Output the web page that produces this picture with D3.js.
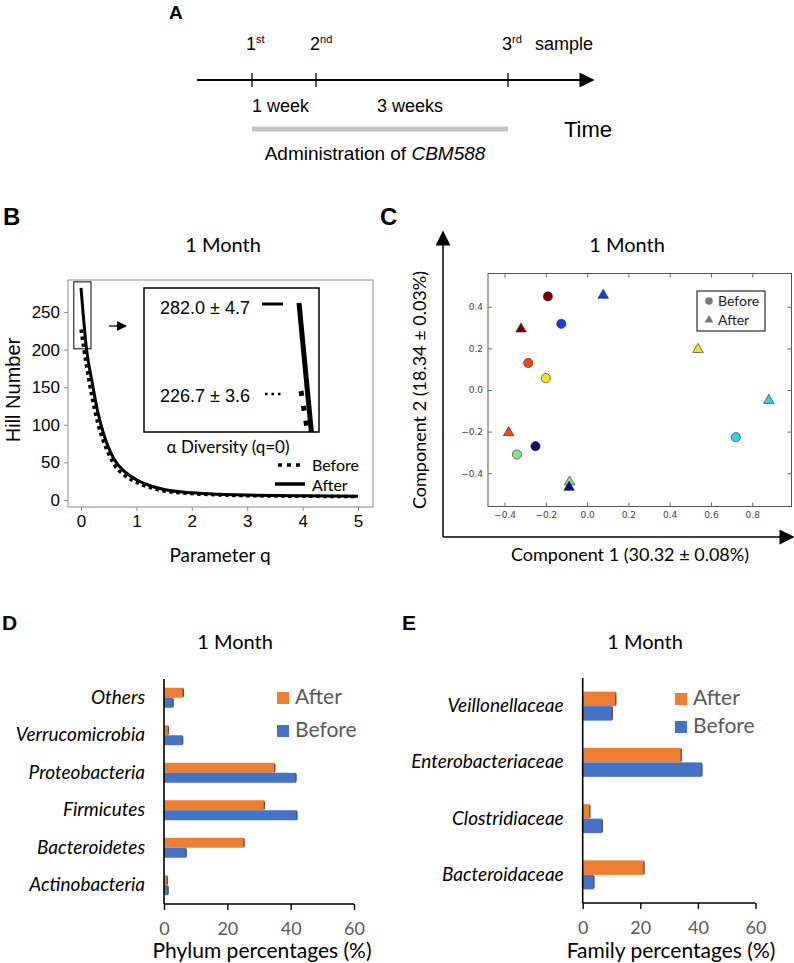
<!DOCTYPE html>
<html>
<head>
<meta charset="utf-8">
<script src="https://cdn.jsdelivr.net/npm/d3@7"></script>
<style>
  body { margin: 0; background: #fff; }
  svg { display: block; }
  .arial { font-family: "Liberation Sans", Arial, sans-serif; }
  .cal { font-family: Lato, "Noto Sans", sans-serif; }
</style>
</head>
<body>
<div class="fig"></div>
<script>
// ---------- data ----------
// panel A: sampling time line
const sampleLabels = ["1", "2", "3"];
const sampleSups = ["st", "nd", "rd"];
const sampleWeeks = [0, 1, 4];
const intervalLabels = ["1 week", "3 weeks"];

// panel B: Hill numbers vs parameter q
const qValues = [0, 0.1, 0.2, 0.3, 0.4, 0.5, 0.6, 0.8, 1.0, 1.25, 1.5, 2.0, 2.5, 3.0, 4.0, 5.0];
const hillAfter = [282, 200, 157, 118, 90, 69, 54, 37, 27, 19, 14, 9.5, 7.5, 6.5, 5.5, 5];
const hillBefore = [226.7, 178, 136, 103, 79, 61, 47, 32, 23.5, 16.5, 12, 8.5, 6.8, 5.8, 5, 4.5];
const hillTicksY = [0, 50, 100, 150, 200, 250];
const hillTicksX = [0, 1, 2, 3, 4, 5];

// panel C: PCoA, one colour per subject
const subjectColors = ["#800000", "#ee4a16", "#f5e11f", "#85e585", "#2fd3f0", "#1a3be8", "#0b0b7a"];
const beforePC1 = [-0.19, -0.285, -0.20, -0.34, 0.72, -0.125, -0.25];
const beforePC2 = [0.45, 0.13, 0.057, -0.31, -0.227, 0.318, -0.27];
const afterPC1 = [-0.32, -0.38, 0.537, -0.085, 0.88, 0.078, -0.087];
const afterPC2 = [0.298, -0.2, 0.2, -0.437, -0.045, 0.46, -0.463];
const pcTicksX = [-0.4, -0.2, 0.0, 0.2, 0.4, 0.6, 0.8];
const pcTicksY = [-0.4, -0.2, 0.0, 0.2, 0.4];

// panel D: phylum percentages
const phyla = ["Others", "Verrucomicrobia", "Proteobacteria", "Firmicutes", "Bacteroidetes", "Actinobacteria"];
const phylumAfter = [6.1, 1.4, 35.0, 31.7, 25.3, 1.05];
const phylumBefore = [2.9, 5.9, 41.7, 42.0, 7.0, 1.3];

// panel E: family percentages
const families = ["Veillonellaceae", "Enterobacteriaceae", "Clostridiaceae", "Bacteroidaceae"];
const familyAfter = [11.5, 34.2, 2.5, 21.3];
const familyBefore = [10.3, 41.4, 6.8, 3.9];

const pctTicks = [0, 20, 40, 60];
const seriesNames = ["After", "Before"];
const seriesColors = ["#ED7D31", "#4472C4"];

// ---------- svg ----------
const svg = d3.select('.fig').append('svg').attr('width', 794).attr('height', 963);

const panelLabel = (x, y, t, size) => svg.append('text').attr('class', 'arial')
  .attr('x', x).attr('y', y).attr('font-weight', 'bold').attr('font-size', size).text(t);

const defs = svg.append('defs');
defs.append('marker').attr('id', 'arr').attr('viewBox', '0 0 10 10').attr('refX', 9).attr('refY', 5)
  .attr('markerWidth', 10).attr('markerHeight', 10).attr('markerUnits', 'userSpaceOnUse').attr('orient', 'auto')
  .append('path').attr('d', 'M0,0 L10,5 L0,10 z').attr('fill', '#000');
defs.append('marker').attr('id', 'arrBig').attr('viewBox', '0 0 10 10').attr('refX', 9).attr('refY', 5)
  .attr('markerWidth', 17).attr('markerHeight', 15).attr('markerUnits', 'userSpaceOnUse').attr('orient', 'auto')
  .append('path').attr('d', 'M0,0 L10,5 L0,10 z').attr('fill', '#000');

// ---------- panel A ----------
panelLabel(169, 19, 'A', 19);
const xA = d3.scaleLinear().domain([0, 4]).range([252, 508]);
const gA = svg.append('g').attr('class', 'arial');
gA.append('line').attr('x1', 197).attr('x2', 593).attr('y1', 80).attr('y2', 80)
  .attr('stroke', '#000').attr('stroke-width', 2).attr('marker-end', 'url(#arrBig)');
gA.selectAll('.tk').data(sampleWeeks).join('line')
  .attr('x1', d => xA(d)).attr('x2', d => xA(d)).attr('y1', 73).attr('y2', 87)
  .attr('stroke', '#000').attr('stroke-width', 1.3);
const sl = gA.selectAll('.sl').data(sampleWeeks).join('text')
  .attr('x', d => xA(d) - 6).attr('y', 50).attr('font-size', 18);
sl.append('tspan').text((d, i) => sampleLabels[i]);
sl.append('tspan').attr('font-size', 11).attr('dy', -7).text((d, i) => sampleSups[i]);
gA.append('text').attr('x', 535).attr('y', 50).attr('font-size', 18).text('sample');
gA.selectAll('.il').data(intervalLabels).join('text')
  .attr('x', (d, i) => i === 0 ? xA(0) : (xA(1) + xA(4)) / 2 - 2)
  .attr('text-anchor', (d, i) => i === 0 ? 'start' : 'middle')
  .attr('y', 112).attr('font-size', 18).text(d => d);
gA.append('line').attr('x1', xA(0)).attr('x2', xA(4)).attr('y1', 129).attr('y2', 129)
  .attr('stroke', '#c3c3c3').attr('stroke-width', 5);
gA.append('text').attr('x', 564).attr('y', 137).attr('font-size', 22).text('Time');
const adm = gA.append('text').attr('x', 375).attr('y', 160).attr('text-anchor', 'middle').attr('font-size', 19);
adm.append('tspan').text('Administration of ');
adm.append('tspan').attr('font-style', 'italic').text('CBM588');

// ---------- panel B ----------
panelLabel(3, 225, 'B', 24);
const xB = d3.scaleLinear().domain([-0.235, 5.27]).range([68, 373]);
const yB = d3.scaleLinear().domain([-9.3, 292.5]).range([507, 280]);
const gB = svg.append('g');
gB.append('text').attr('class', 'cal').attr('x', 223).attr('y', 252).attr('text-anchor', 'middle')
  .attr('font-size', 20).text('1 Month');
gB.append('rect').attr('x', 68).attr('y', 280).attr('width', 305).attr('height', 227)
  .attr('fill', 'none').attr('stroke', '#8a8a8a');
const axYB = gB.append('g').attr('class', 'arial').attr('transform', 'translate(68,0)')
  .call(d3.axisLeft(yB).tickValues(hillTicksY).tickSize(4).tickPadding(4));
const axXB = gB.append('g').attr('class', 'arial').attr('transform', 'translate(0,507)')
  .call(d3.axisBottom(xB).tickValues(hillTicksX).tickFormat(d3.format('d')).tickSize(4).tickPadding(4));
[axYB, axXB].forEach(a => {
  a.select('.domain').remove();
  a.selectAll('line').attr('stroke', '#8a8a8a');
  a.selectAll('text').attr('font-size', 17).attr('fill', '#000').attr('font-family', '"Liberation Sans", Arial, sans-serif');
});
gB.append('text').attr('class', 'arial').attr('transform', 'translate(20,390) rotate(-90)')
  .attr('text-anchor', 'middle').attr('font-size', 20).text('Hill Number');
gB.append('text').attr('class', 'cal').attr('x', 220).attr('y', 562).attr('text-anchor', 'middle')
  .attr('font-size', 19).text('Parameter q');

const lineB = (xs, ys) => d3.line().x((d, i) => xs(qValues[i])).y(d => ys(d)).curve(d3.curveMonotoneX);
gB.append('path').datum(hillBefore).attr('d', lineB(xB, yB)).attr('fill', 'none')
  .attr('stroke', '#000').attr('stroke-width', 3.5).attr('stroke-dasharray', '3.5 3.5');
gB.append('path').datum(hillAfter).attr('d', lineB(xB, yB)).attr('fill', 'none')
  .attr('stroke', '#000').attr('stroke-width', 3);

// zoom box around q = 0
gB.append('rect').attr('x', xB(-0.13)).attr('y', yB(290)).attr('width', xB(0.18) - xB(-0.13))
  .attr('height', yB(201) - yB(290)).attr('fill', 'none').attr('stroke', '#000').attr('stroke-width', 1);
gB.append('line').attr('x1', 109).attr('x2', 126).attr('y1', 326).attr('y2', 326)
  .attr('stroke', '#000').attr('stroke-width', 1.3).attr('marker-end', 'url(#arr)');

// inset
const ins = { x: 144, y: 288, w: 175, h: 144 };
gB.append('rect').attr('x', ins.x).attr('y', ins.y).attr('width', ins.w).attr('height', ins.h)
  .attr('fill', '#fff').attr('stroke', '#000').attr('stroke-width', 1.5);
defs.append('clipPath').attr('id', 'insClip').append('rect')
  .attr('x', ins.x).attr('y', ins.y).attr('width', ins.w).attr('height', ins.h);
const xI = d3.scaleLinear().domain([0, 0.1]).range([299, 311.5]);
const yI = d3.scaleLinear().domain([282, 226.7]).range([303, 391]);
const gI = gB.append('g').attr('clip-path', 'url(#insClip)');
gI.append('path').datum(hillAfter.slice(0, 2)).attr('d', lineB(xI, yI)).attr('fill', 'none')
  .attr('stroke', '#000').attr('stroke-width', 5);
gI.append('path').datum(hillBefore.slice(0, 2)).attr('d', lineB(xI, yI)).attr('fill', 'none')
  .attr('stroke', '#000').attr('stroke-width', 5).attr('stroke-dasharray', '5 10')
  .attr('transform', 'translate(2,0)');
const insTxt = [[`${hillAfter[0].toFixed(1)} ± 4.7`, 314, 304, 'solid'], [`${hillBefore[0].toFixed(1)} ± 3.6`, 402, 394, 'dot']];
insTxt.forEach(([t, y, ly, s]) => {
  gB.append('text').attr('class', 'arial').attr('x', 160).attr('y', y).attr('font-size', 18).text(t);
  gB.append('line').attr('x1', s === 'solid' ? 262 : 265).attr('x2', 283).attr('y1', ly).attr('y2', ly)
    .attr('stroke', '#000').attr('stroke-width', s === 'solid' ? 3 : 2.5)
    .attr('stroke-dasharray', s === 'solid' ? null : '2.5 4');
});
gB.append('text').attr('class', 'cal').attr('x', 228).attr('y', 453).attr('text-anchor', 'middle')
  .attr('font-size', 17).text('α Diversity (q=0)');
// legend
gB.append('line').attr('x1', 278).attr('x2', 303).attr('y1', 465).attr('y2', 465)
  .attr('stroke', '#000').attr('stroke-width', 3.5).attr('stroke-dasharray', '4 5');
gB.append('line').attr('x1', 275).attr('x2', 305).attr('y1', 484).attr('y2', 484)
  .attr('stroke', '#000').attr('stroke-width', 3.5);
gB.append('text').attr('class', 'cal').attr('x', 312).attr('y', 471).attr('font-size', 16).text('Before');
gB.append('text').attr('class', 'cal').attr('x', 312).attr('y', 491).attr('font-size', 16).text('After');

// ---------- panel C ----------
panelLabel(380, 225, 'C', 24);
const xC = d3.scaleLinear().domain([-0.48, 0.99]).range([488, 791.5]);
const yC = d3.scaleLinear().domain([-0.56, 0.56]).range([506.5, 273.5]);
const gC = svg.append('g');
gC.append('line').attr('x1', 443).attr('x2', 443).attr('y1', 537).attr('y2', 232)
  .attr('stroke', '#000').attr('stroke-width', 1.5).attr('marker-end', 'url(#arrBig)');
gC.append('line').attr('x1', 443).attr('x2', 793).attr('y1', 537).attr('y2', 537)
  .attr('stroke', '#000').attr('stroke-width', 1.5).attr('marker-end', 'url(#arrBig)');
gC.append('text').attr('class', 'cal').attr('x', 627).attr('y', 252).attr('text-anchor', 'middle')
  .attr('font-size', 20).text('1 Month');
gC.append('rect').attr('x', 488).attr('y', 273.5).attr('width', 303.5).attr('height', 233)
  .attr('fill', 'none').attr('stroke', '#555');
const axC = [
  gC.append('g').attr('transform', 'translate(0,506.5)').call(d3.axisBottom(xC).tickValues(pcTicksX).tickFormat(d3.format('.1f')).tickSize(-4).tickPadding(5)),
  gC.append('g').attr('transform', 'translate(0,273.5)').call(d3.axisTop(xC).tickValues(pcTicksX).tickFormat('').tickSize(-4)),
  gC.append('g').attr('transform', 'translate(488,0)').call(d3.axisLeft(yC).tickValues(pcTicksY).tickFormat(d3.format('.1f')).tickSize(-4).tickPadding(5)),
  gC.append('g').attr('transform', 'translate(791.5,0)').call(d3.axisRight(yC).tickValues(pcTicksY).tickFormat('').tickSize(-4))
];
axC.forEach(a => {
  a.select('.domain').remove();
  a.selectAll('line').attr('stroke', '#666');
  a.selectAll('text').attr('font-size', 9).attr('fill', '#444').attr('font-family', '"DejaVu Sans", sans-serif')
    .text(function () { return this.textContent.replace('-', '−'); });
});
const sym = d3.symbol().type(d3.symbolTriangle).size(48);
gC.selectAll('.pb').data(subjectColors).join('circle')
  .attr('cx', (d, i) => xC(beforePC1[i])).attr('cy', (d, i) => yC(beforePC2[i])).attr('r', 4.6)
  .attr('fill', d => d).attr('stroke', '#222').attr('stroke-width', 0.6);
gC.selectAll('.pa').data(subjectColors).join('path').attr('d', sym)
  .attr('transform', (d, i) => `translate(${xC(afterPC1[i])},${yC(afterPC2[i]) + 1})`)
  .attr('fill', d => d).attr('stroke', '#222').attr('stroke-width', 0.6);
gC.append('rect').attr('x', 697).attr('y', 291).attr('width', 68).attr('height', 40)
  .attr('fill', '#fff').attr('stroke', '#000').attr('stroke-width', 1);
gC.append('circle').attr('cx', 709).attr('cy', 301).attr('r', 3.8).attr('fill', '#777');
gC.append('path').attr('d', d3.symbol().type(d3.symbolTriangle).size(32))
  .attr('transform', 'translate(709,320)').attr('fill', '#777');
gC.append('text').attr('class', 'cal').attr('x', 718).attr('y', 306).attr('font-size', 14).attr('fill', '#222').text('Before');
gC.append('text').attr('class', 'cal').attr('x', 718).attr('y', 325).attr('font-size', 14).attr('fill', '#222').text('After');
gC.append('text').attr('class', 'cal').attr('transform', 'translate(426,390) rotate(-90)')
  .attr('text-anchor', 'middle').attr('font-size', 18).text('Component 2 (18.34 ± 0.03%)');
gC.append('text').attr('class', 'cal').attr('x', 630).attr('y', 561)
  .attr('text-anchor', 'middle').attr('font-size', 18).text('Component 1 (30.32 ± 0.08%)');

// ---------- panels D and E ----------
const barPanel = (o) => {
  panelLabel(o.lx, 630, o.letter, 21);
  const x = d3.scaleLinear().domain([0, 60]).range([o.x0, o.x1]);
  const y = d3.scaleBand().domain(o.cats).range([o.y0, o.y1]);
  const ys = d3.scaleBand().domain(seriesNames).range([0, y.bandwidth()]).paddingOuter(o.pad);
  const g = svg.append('g').attr('class', 'cal');
  g.append('text').attr('x', o.tx).attr('y', 649).attr('text-anchor', 'middle').attr('font-size', 20).text('1 Month');
  const rows = o.cats.map((c, i) => seriesNames.map((s, j) => ({ c, s, j, v: [o.after, o.before][j][i] }))).flat();
  g.selectAll('.bar').data(rows).join('rect')
    .attr('x', x(0)).attr('y', d => y(d.c) + ys(d.s)).attr('width', d => x(d.v) - x(0))
    .attr('height', ys.bandwidth()).attr('fill', d => seriesColors[d.j]);
  g.selectAll('.err').data(rows).join('line')
    .attr('x1', d => x(d.v)).attr('x2', d => x(d.v))
    .attr('y1', d => y(d.c) + ys(d.s) + 1).attr('y2', d => y(d.c) + ys(d.s) + ys.bandwidth() - 1)
    .attr('stroke', '#505050').attr('stroke-width', 1.3);
  const ax = g.append('g').attr('transform', `translate(0,${o.y1})`)
    .call(d3.axisBottom(x).tickValues(pctTicks).tickSize(6).tickPadding(12).tickSizeOuter(0));
  ax.select('.domain').attr('stroke', '#000').attr('stroke-width', 1.6).attr('d', `M${o.x0},0H${o.x1}`);
  ax.selectAll('line').attr('stroke', '#000').attr('stroke-width', 1.4);
  ax.selectAll('text').attr('font-size', 18).attr('fill', '#595959').attr('font-family', 'Lato, sans-serif');
  g.append('line').attr('x1', o.x0).attr('x2', o.x0).attr('y1', o.y0).attr('y2', o.y1)
    .attr('stroke', '#000').attr('stroke-width', 1.6);
  g.selectAll('.cl').data(o.cats).join('text')
    .attr('x', o.x0 - 19).attr('y', d => y(d) + y.bandwidth() / 2 + 6).attr('text-anchor', 'end')
    .attr('font-style', 'italic').attr('font-size', 19).text(d => d);
  g.append('text').attr('x', o.xlx).attr('y', 958).attr('text-anchor', 'middle').attr('font-size', 21).text(o.xlabel);
  seriesNames.forEach((s, j) => {
    g.append('rect').attr('x', o.legX).attr('y', o.legY + j * o.legDy).attr('width', 12).attr('height', 12).attr('fill', seriesColors[j]);
    g.append('text').attr('x', o.legX + 18).attr('y', o.legY + j * o.legDy + 12).attr('font-size', 21).attr('fill', '#595959').text(s);
  });
};
barPanel({ letter: 'D', lx: 2, cats: phyla, after: phylumAfter, before: phylumBefore, x0: 164, x1: 354,
  y0: 679, y1: 904, pad: 0.875, tx: 235, xlabel: 'Phylum percentages (%)', xlx: 262, legX: 277, legY: 692, legDy: 33 });
barPanel({ letter: 'E', lx: 402, cats: families, after: familyAfter, before: familyBefore, x0: 582.7, x1: 755.5,
  y0: 678, y1: 903, pad: 0.94, tx: 645, xlabel: 'Family percentages (%)', xlx: 671, legX: 675, legY: 693, legDy: 28 });
</script>
</body>
</html>
